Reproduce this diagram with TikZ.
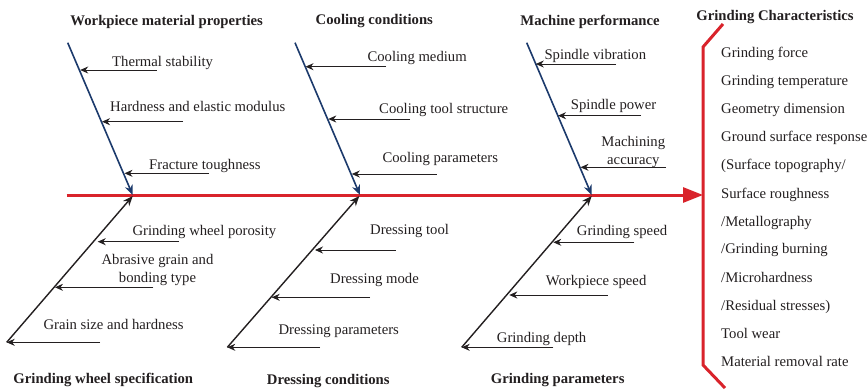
\documentclass[tikz,border=0pt]{standalone}
\usepackage{fontspec}
\setmainfont{Liberation Serif}
\usetikzlibrary{arrows.meta}
\definecolor{fbred}{HTML}{D9232B}
\definecolor{fbnavy}{HTML}{1C3A6C}
\definecolor{fbtext}{HTML}{231F20}
\begin{document}
\begin{tikzpicture}[x=1pt,y=-1pt,
  lbl/.style={font=\fontsize{14.7}{18}\selectfont, text=fbtext, inner sep=0pt, anchor=west, text height=9pt, text depth=4pt, yshift=-2.8pt},
  lbl2/.style={font=\fontsize{14.7}{18}\selectfont, text=fbtext, inner sep=0pt, align=center, yshift=-1.5pt},
  ttl/.style={font=\bfseries\fontsize{14.7}{16}\selectfont, text=fbtext, inner sep=0pt, yshift=-2pt},
  bone/.style={draw=fbnavy, line width=1.6pt, -{Stealth[length=10pt,width=8pt]}},
  lowbone/.style={draw=fbtext, line width=1.4pt, -{Stealth[length=10pt,width=8pt]}},
  subarr/.style={draw=fbtext, line width=0.9pt, -{Stealth[length=8pt,width=7pt]}},
  spine/.style={draw=fbred, line width=3pt, -{Triangle[length=20pt,width=15pt]}},
  brk/.style={draw=fbred, line width=3pt}
]
\useasboundingbox (0,0) rectangle (868,391);

% spine
\coordinate (spA) at (66.7,195);
\coordinate (spB) at (703,195);
\draw[spine] (spA) -- (spB);

% bracket
\coordinate (k1) at (723,24);
\coordinate (k2) at (703,47);
\coordinate (k3) at (703,365);
\coordinate (k4) at (725,388);
\draw[brk, line join=miter] (k1) -- (k2) -- (k3) -- (k4);

% titles
\node[ttl] (t1) at (166.7,20) {Workpiece material properties};
\node[ttl] (t2) at (374.3,19.5) {Cooling conditions};
\node[ttl] (t3) at (590,19.5) {Machine performance};
\node[ttl] (t4) at (775,15.5) {Grinding Characteristics};
\node[ttl] (b1) at (103.3,378) {Grinding wheel specification};
\node[ttl] (b2) at (328.3,379.5) {Dressing conditions};
\node[ttl] (b3) at (557.7,378) {Grinding parameters};

% top bones
\coordinate (u1a) at (67.7,42.7);  \coordinate (u1b) at (132.7,195);
\coordinate (u2a) at (295,42.7);   \coordinate (u2b) at (360,195);
\coordinate (u3a) at (526.7,42.7); \coordinate (u3b) at (591.7,195);
\draw[bone] (u1a) -- (u1b);
\draw[bone] (u2a) -- (u2b);
\draw[bone] (u3a) -- (u3b);

% bottom bones
\coordinate (d1a) at (6.7,342.3);   \coordinate (d1b) at (132.7,196);
\coordinate (d2a) at (227.3,347.3); \coordinate (d2b) at (359.3,196);
\coordinate (d3a) at (461.7,347.3); \coordinate (d3b) at (591.7,196);
\draw[lowbone] (d1a) -- (d1b);
\draw[lowbone] (d2a) -- (d2b);
\draw[lowbone] (d3a) -- (d3b);

% --- Workpiece material properties
\node[lbl] (a1) at (112,61) {Thermal stability};
\coordinate (a1s) at (156.7,70); \coordinate (a1t) at (80.2,70);
\draw[subarr] (a1s) -- (a1t);
\node[lbl] (a2) at (110,106.5) {Hardness and elastic modulus};
\coordinate (a2s) at (183,121.7); \coordinate (a2t) at (102,121.7);
\draw[subarr] (a2s) -- (a2t);
\node[lbl] (a3) at (149,164) {Fracture toughness};
\coordinate (a3s) at (209,173.3); \coordinate (a3t) at (124.5,173.3);
\draw[subarr] (a3s) -- (a3t);

% --- Cooling conditions
\node[lbl] (c1) at (367.3,56) {Cooling medium};
\coordinate (c1s) at (386,66.7); \coordinate (c1t) at (305.5,66.7);
\draw[subarr] (c1s) -- (c1t);
\node[lbl] (c2) at (379,108.3) {Cooling tool structure};
\coordinate (c2s) at (410,119); \coordinate (c2t) at (328.3,119);
\draw[subarr] (c2s) -- (c2t);
\node[lbl] (c3) at (382.3,156.7) {Cooling parameters};
\coordinate (c3s) at (436.7,174); \coordinate (c3t) at (351.8,174);
\draw[subarr] (c3s) -- (c3t);

% --- Machine performance
\node[lbl] (m1) at (544.3,54) {Spindle vibration};
\coordinate (m1s) at (616,64); \coordinate (m1t) at (535.8,64);
\draw[subarr] (m1s) -- (m1t);
\node[lbl] (m2) at (570.7,104.3) {Spindle power};
\coordinate (m2s) at (641,115.7); \coordinate (m2t) at (558,115.7);
\draw[subarr] (m2s) -- (m2t);
\node[lbl2] (m3) at (633.3,150) {Machining\\accuracy};
\coordinate (m3s) at (666,167.3); \coordinate (m3t) at (580.5,167.3);
\draw[subarr] (m3s) -- (m3t);

% --- Grinding wheel specification
\node[lbl] (w1) at (132.3,230) {Grinding wheel porosity};
\coordinate (w1s) at (179,241.7); \coordinate (w1t) at (97.7,241.7);
\draw[subarr] (w1s) -- (w1t);
\node[lbl2] (w2) at (157.5,268.5) {Abrasive grain and\\bonding type};
\coordinate (w2s) at (153.3,287.3); \coordinate (w2t) at (55,287.3);
\draw[subarr] (w2s) -- (w2t);
\node[lbl] (w3) at (43.3,324) {Grain size and hardness};
\coordinate (w3s) at (100,342.3);
\draw[subarr] (w3s) -- (d1a);

% --- Dressing conditions
\node[lbl] (r1) at (370,229.3) {Dressing tool};
\coordinate (r1s) at (395.7,250); \coordinate (r1t) at (315,250);
\draw[subarr] (r1s) -- (r1t);
\node[lbl] (r2) at (330,278.3) {Dressing mode};
\coordinate (r2s) at (370,297.3); \coordinate (r2t) at (271.7,297.3);
\draw[subarr] (r2s) -- (r2t);
\node[lbl] (r3) at (278.3,329.3) {Dressing parameters};
\coordinate (r3s) at (320,347.3);
\draw[subarr] (r3s) -- (d2a);

% --- Grinding parameters
\node[lbl] (g1) at (576.7,230) {Grinding speed};
\coordinate (g1s) at (634.3,242.3); \coordinate (g1t) at (553.3,242.3);
\draw[subarr] (g1s) -- (g1t);
\node[lbl] (g2) at (545.7,280) {Workpiece speed};
\coordinate (g2s) at (607.7,295); \coordinate (g2t) at (509.3,295);
\draw[subarr] (g2s) -- (g2t);
\node[lbl] (g3) at (496.7,336.7) {Grinding depth};
\coordinate (g3s) at (553.3,347.3);
\draw[subarr] (g3s) -- (d3a);

% --- Grinding characteristics list
\node[lbl] (o1) at (721,52) {Grinding force};
\node[lbl] (o2) at (721,80) {Grinding temperature};
\node[lbl] (o3) at (721,108) {Geometry dimension};
\node[lbl] (o4) at (721,136) {Ground surface response};
\node[lbl] (o5) at (721,164) {(Surface topography/};
\node[lbl] (o6) at (721,193) {Surface roughness};
\node[lbl] (o7) at (721,221) {/Metallography};
\node[lbl] (o8) at (721,248.5) {/Grinding burning};
\node[lbl] (o9) at (721,277) {/Microhardness};
\node[lbl] (o10) at (721,305) {/Residual stresses)};
\node[lbl] (o11) at (721,333) {Tool wear};
\node[lbl] (o12) at (721,361) {Material removal rate};
\end{tikzpicture}
\end{document}
